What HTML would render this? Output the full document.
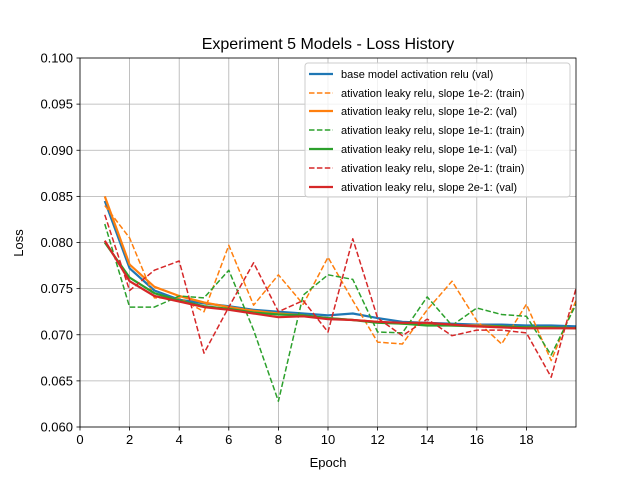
<!DOCTYPE html>
<html><head><meta charset="utf-8"><style>body{margin:0;background:#fff}svg{display:block;font-family:"Liberation Sans","DejaVu Sans",sans-serif}</style></head>
<body>
<svg id="c" width="640" height="480"></svg>
<script>
const epochs=[1,2,3,4,5,6,7,8,9,10,11,12,13,14,15,16,17,18,19,20];
const baseVal=[0.0845,0.0772,0.0748,0.0738,0.0734,0.0731,0.0727,0.0725,0.0723,0.0721,0.0723,0.0718,0.0714,0.0713,0.0712,0.0711,0.0711,0.071,0.071,0.0709];
const l2Train=[0.084,0.0805,0.074,0.074,0.0725,0.0797,0.0732,0.0765,0.0733,0.0784,0.0737,0.0692,0.069,0.0727,0.0758,0.0715,0.069,0.0733,0.0672,0.0737];
const l2Val=[0.085,0.0776,0.0752,0.0742,0.0735,0.073,0.0726,0.0723,0.0721,0.0718,0.0716,0.0714,0.0712,0.0711,0.071,0.071,0.0709,0.0708,0.0708,0.0707];
const l1Train=[0.082,0.073,0.073,0.0742,0.074,0.077,0.0705,0.0628,0.0743,0.0765,0.076,0.0703,0.0702,0.0741,0.071,0.0729,0.0722,0.072,0.0678,0.0733];
const l1Val=[0.080,0.0762,0.0745,0.0737,0.0731,0.0728,0.0724,0.0722,0.0721,0.0718,0.0716,0.0713,0.0712,0.071,0.071,0.0709,0.0709,0.0708,0.0708,0.0707];
const s2Train=[0.083,0.0748,0.077,0.078,0.068,0.073,0.0778,0.0725,0.0737,0.0703,0.0804,0.0718,0.0699,0.0717,0.0699,0.0705,0.0705,0.0702,0.0654,0.075];
const s2Val=[0.0802,0.0758,0.0742,0.0736,0.073,0.0727,0.0723,0.0719,0.072,0.0717,0.0716,0.0714,0.0713,0.0713,0.0711,0.0709,0.0708,0.0707,0.0707,0.0707];
const xTicks=[0,2,4,6,8,10,12,14,16,18];
const yTicks=[0.060,0.065,0.070,0.075,0.080,0.085,0.090,0.095,0.100];
const L=80,R=576,T=58,B=427;
const xs=v=>L+(v-0)/(20-0)*(R-L);
const ys=v=>B-(v-0.06)/(0.1-0.06)*(B-T);
const svg=document.getElementById('c');const NS='http://www.w3.org/2000/svg';
function mk(t,a,p){const e=document.createElementNS(NS,t);for(const k in a)e.setAttribute(k,a[k]);(p||svg).appendChild(e);return e;}
const defs=mk('defs',{});const cp=mk('clipPath',{id:'cp'},defs);mk('rect',{x:L,y:T,width:R-L,height:B-T},cp);
const grid=mk('g',{});


xTicks.forEach(t=>{const x=xs(t);
const gl=mk('line',{x1:x,x2:x,y1:T,y2:B,stroke:'#b0b0b0','stroke-width':0.8},grid);


mk('line',{x1:x,x2:x,y1:B,y2:B+3.5,stroke:'#000','stroke-width':0.8});
const tx=mk('text',{x:x,y:B+17,'text-anchor':'middle','font-size':13});tx.textContent=t;

});
yTicks.forEach(t=>{const y=ys(t);
const gl=mk('line',{x1:L,x2:R,y1:y,y2:y,stroke:'#b0b0b0','stroke-width':0.8},grid);


mk('line',{x1:L-3.5,x2:L,y1:y,y2:y,stroke:'#000','stroke-width':0.8});
const tx=mk('text',{x:L-7,y:y+4.5,'text-anchor':'end','font-size':13});tx.textContent=t.toFixed(3);

});
const series=[
['base-val',baseVal,'#1f77b4',false],
['leaky-1e-2-train',l2Train,'#ff7f0e',true],['leaky-1e-2-val',l2Val,'#ff7f0e',false],
['leaky-1e-1-train',l1Train,'#2ca02c',true],['leaky-1e-1-val',l1Val,'#2ca02c',false],
['leaky-2e-1-train',s2Train,'#d62728',true],['leaky-2e-1-val',s2Val,'#d62728',false]];
const lg=mk('g',{'clip-path':'url(#cp)'});
series.forEach(s=>{const d=s[1].map((v,i)=>(i?'L':'M')+xs(epochs[i]).toFixed(1)+','+ys(v).toFixed(1)).join('');
const p=mk('path',{d:d,fill:'none',stroke:s[2],'stroke-width':s[3]?1.5:2.2,'stroke-dasharray':s[3]?'5.5,2.4':'none','stroke-linejoin':'round'},lg);

});
mk('rect',{x:L,y:T,width:R-L,height:B-T,fill:'none',stroke:'#000','stroke-width':0.8});
</script>
<svg width="640" height="480" style="position:absolute;left:0;top:0" font-family="Liberation Sans, DejaVu Sans, sans-serif">
<text x="328" y="49" text-anchor="middle" font-size="16">Experiment 5 Models - Loss History</text>
<text x="328" y="467" text-anchor="middle" font-size="13">Epoch</text>
<text x="23" y="243" text-anchor="middle" font-size="13" transform="rotate(-90 23 243)">Loss</text>
<g font-size="11">
<rect x="305" y="63" width="265" height="134" rx="3" fill="#fff" fill-opacity="0.8" stroke="#ccc"/>
<g><line x1="309" x2="333" y1="74" y2="74" stroke="#1f77b4" stroke-width="2.2"/><text x="341" y="78">base model activation relu (val)</text></g>
<g><line x1="309" x2="333" y1="93" y2="93" stroke="#ff7f0e" stroke-width="1.5" stroke-dasharray="5.5,2.4"/><text x="341" y="97">ativation leaky relu, slope 1e-2: (train)</text></g>
<g><line x1="309" x2="333" y1="111" y2="111" stroke="#ff7f0e" stroke-width="2.2"/><text x="341" y="115">ativation leaky relu, slope 1e-2: (val)</text></g>
<g><line x1="309" x2="333" y1="130" y2="130" stroke="#2ca02c" stroke-width="1.5" stroke-dasharray="5.5,2.4"/><text x="341" y="134">ativation leaky relu, slope 1e-1: (train)</text></g>
<g><line x1="309" x2="333" y1="149" y2="149" stroke="#2ca02c" stroke-width="2.2"/><text x="341" y="153">ativation leaky relu, slope 1e-1: (val)</text></g>
<g><line x1="309" x2="333" y1="168" y2="168" stroke="#d62728" stroke-width="1.5" stroke-dasharray="5.5,2.4"/><text x="341" y="172">ativation leaky relu, slope 2e-1: (train)</text></g>
<g><line x1="309" x2="333" y1="187" y2="187" stroke="#d62728" stroke-width="2.2"/><text x="341" y="191">ativation leaky relu, slope 2e-1: (val)</text></g>
</g>
</svg>
</body></html>
